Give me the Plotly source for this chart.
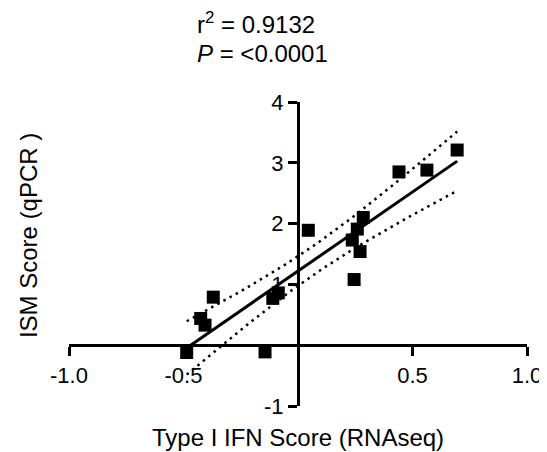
import numpy as np
import plotly.graph_objects as go

# Data
ifn_rnaseq = [-0.486, -0.425, -0.406, -0.37, -0.144, -0.11, -0.086, 0.045,
              0.237, 0.245, 0.259, 0.271, 0.285, 0.441, 0.563, 0.695]
ism_qpcr = [-0.12, 0.44, 0.33, 0.79, -0.11, 0.77, 0.86, 1.89,
            1.73, 1.08, 1.91, 1.54, 2.10, 2.85, 2.88, 3.21]

x_tickvals = [-1.0, -0.5, 0.5, 1.0]
x_ticktext = ["-1.0", "-0.5", "0.5", "1.0"]
y_tickvals = [-1, 1, 2, 3, 4]
y_ticktext = ["-1", "1", "2", "3", "4"]

r2_text = "r<sup>2</sup> = 0.9132"
p_text = "<i>P</i> = <0.0001"
x_title = "Type I IFN Score (RNAseq)"
y_title = "ISM Score (qPCR )"

# Linear regression with 95% confidence band
x = np.array(ifn_rnaseq)
y = np.array(ism_qpcr)
n = len(x)
slope, intercept = np.polyfit(x, y, 1)
resid = y - (slope * x + intercept)
s = np.sqrt(np.sum(resid ** 2) / (n - 2))
xm = x.mean()
sxx = np.sum((x - xm) ** 2)
t_crit = 2.145  # t(0.975, df=14)
xf = np.linspace(x.min(), x.max(), 60)
yf = slope * xf + intercept
half = t_crit * s * np.sqrt(1.0 / n + (xf - xm) ** 2 / sxx)

font = "Liberation Sans, Arial, sans-serif"

fig = go.Figure()
fig.add_trace(go.Scatter(x=xf, y=yf + half, mode="lines",
                         line=dict(color="black", width=2.5, dash="2.5px,4.5px"),
                         hoverinfo="skip"))
fig.add_trace(go.Scatter(x=xf, y=yf - half, mode="lines",
                         line=dict(color="black", width=2.5, dash="2.5px,4.5px"),
                         hoverinfo="skip"))
fig.add_trace(go.Scatter(x=ifn_rnaseq, y=ism_qpcr, mode="markers",
                         marker=dict(symbol="square", size=13, color="black",
                                     line=dict(width=0))))
fig.add_trace(go.Scatter(x=[xf[0], xf[-1]], y=[yf[0], yf[-1]], mode="lines",
                         line=dict(color="black", width=3)))

# page body has an 8px default margin, so the plot area is shifted back by 8px
fig.update_layout(
    width=547, height=452,
    margin=dict(l=61, r=28, t=94, b=54, autoexpand=False),
    paper_bgcolor="white", plot_bgcolor="white",
    showlegend=False,
    font=dict(family=font, color="black", size=22),
    xaxis=dict(range=[-1, 1], anchor="free", position=0.2,
               showline=True, linecolor="black", linewidth=3,
               ticks="outside", ticklen=9, tickwidth=3, tickcolor="black",
               tickvals=x_tickvals, ticktext=x_ticktext,
               showgrid=False, zeroline=False, layer="below traces",
               tickfont=dict(size=22)),
    yaxis=dict(range=[-1, 4], anchor="free", position=0.5,
               showline=True, linecolor="black", linewidth=3,
               ticks="outside", ticklen=9, tickwidth=3, tickcolor="black",
               tickvals=y_tickvals, ticktext=y_ticktext,
               showgrid=False, zeroline=False, layer="below traces",
               tickfont=dict(size=22)),
    annotations=[
        dict(text=r2_text, xref="paper", yref="paper", x=0.275, y=1.26,
             xanchor="left", yanchor="middle", showarrow=False,
             font=dict(size=24)),
        dict(text=p_text, xref="paper", yref="paper", x=0.275, y=1.16,
             xanchor="left", yanchor="middle", showarrow=False,
             font=dict(size=24)),
        dict(text=x_title, xref="paper", yref="paper", x=0.5, y=-0.105,
             xanchor="center", yanchor="middle", showarrow=False,
             font=dict(size=24)),
        dict(text=y_title, xref="paper", yref="paper", x=-0.0895, y=0.559,
             xanchor="center", yanchor="middle", showarrow=False,
             textangle=-90, font=dict(size=24)),
    ],
)

fig.write_html("out.html")
